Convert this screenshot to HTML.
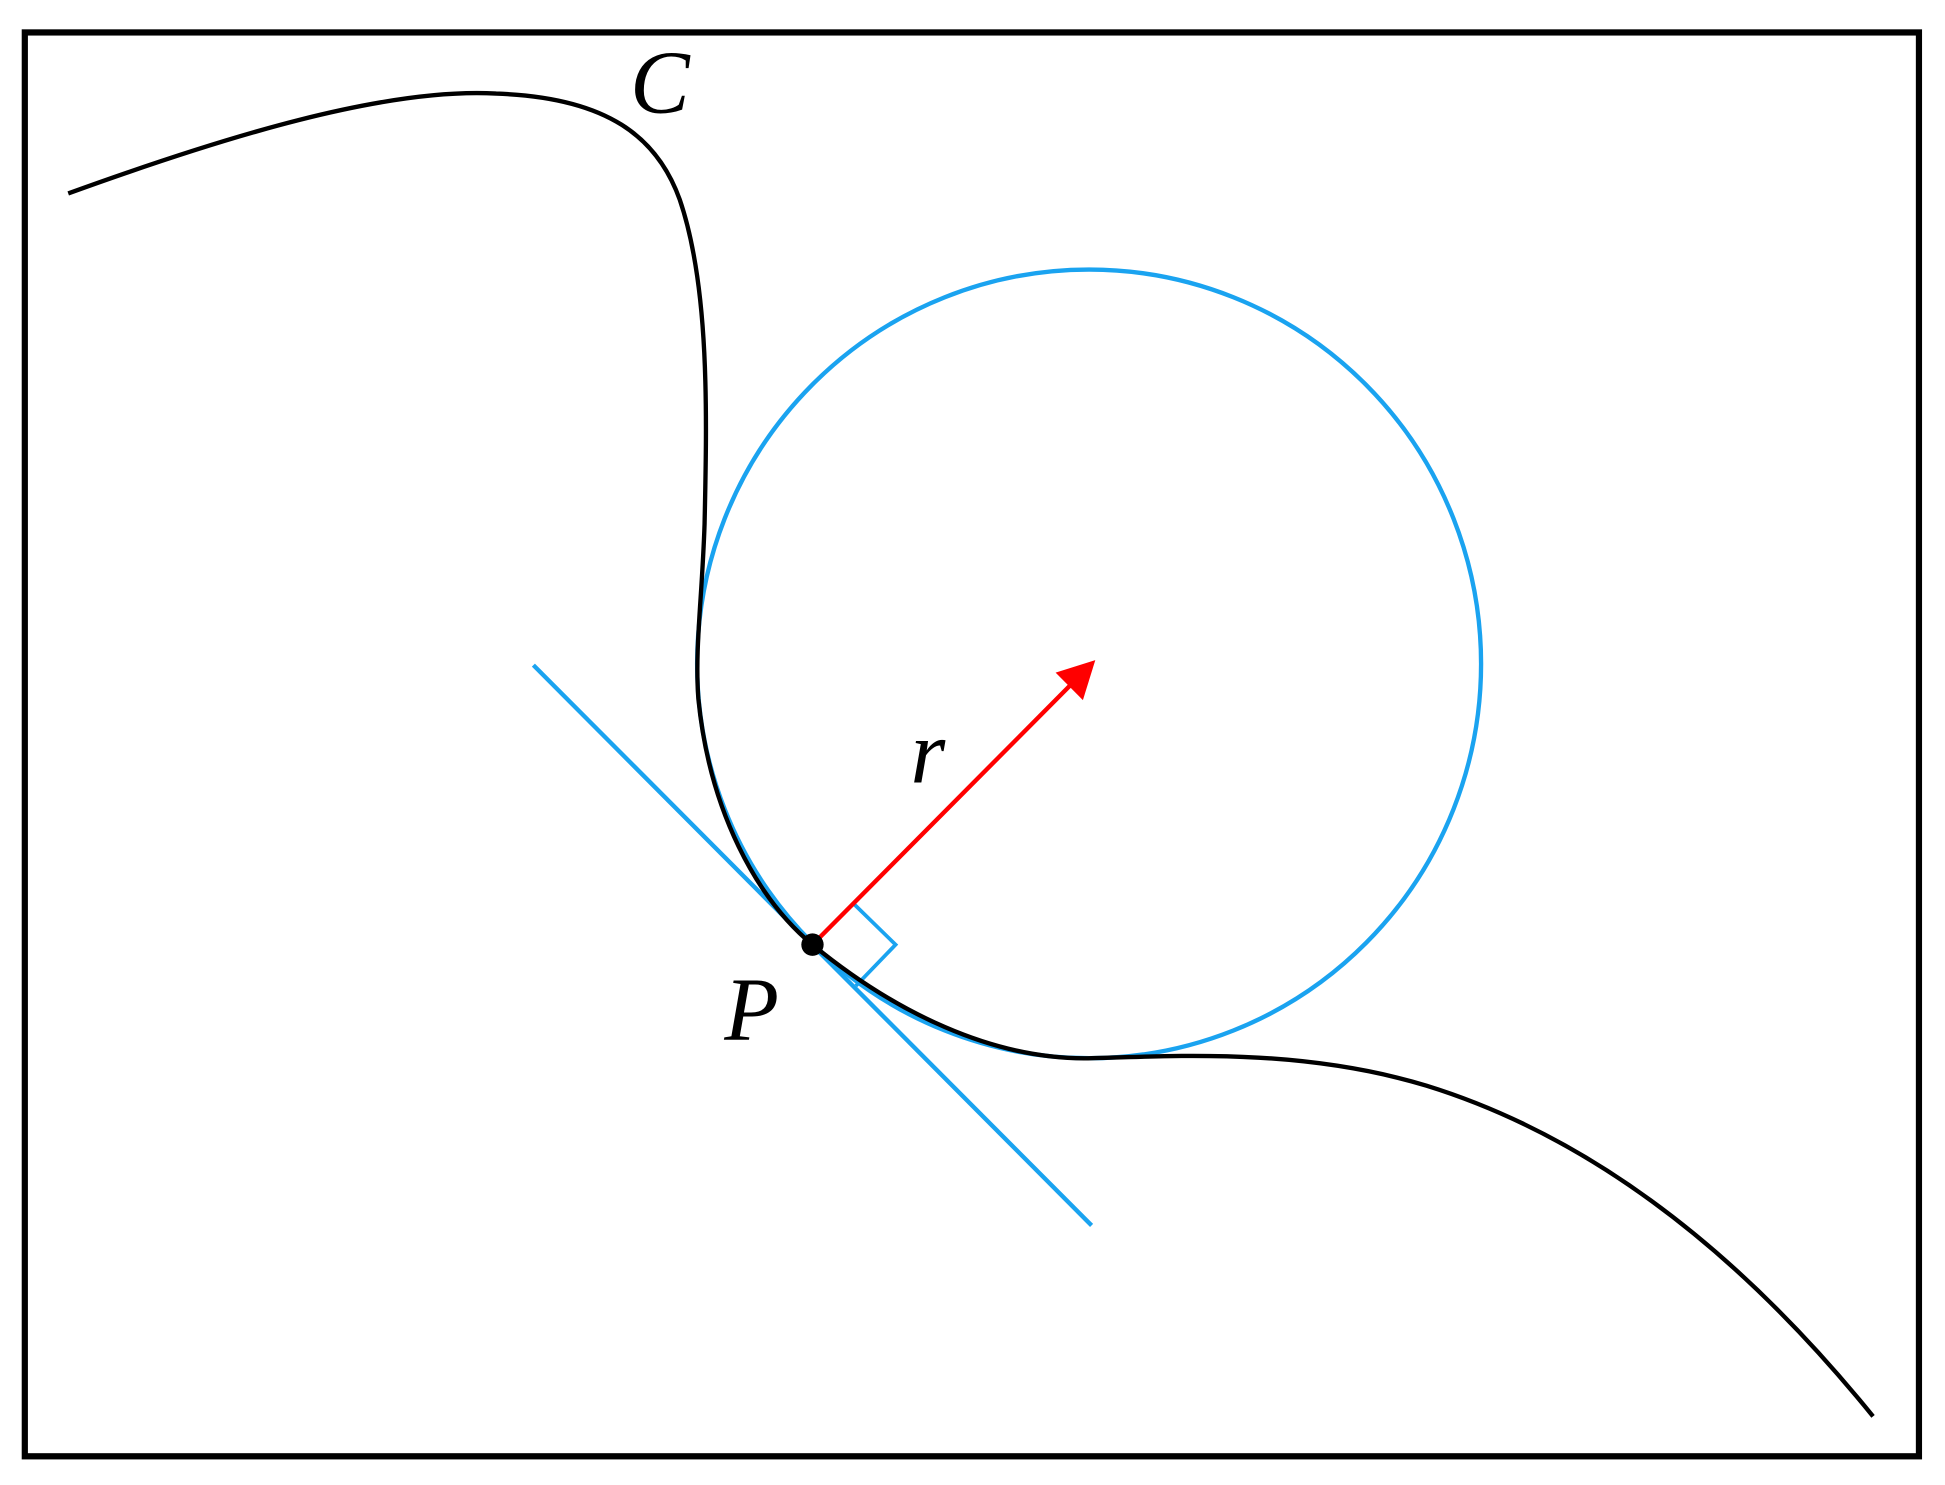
<!DOCTYPE html>
<html><head><style>html,body{margin:0;padding:0;background:#fff}svg{display:block}</style></head>
<body>
<svg width="1945" height="1485" viewBox="0 0 1568 1190" preserveAspectRatio="none" xmlns="http://www.w3.org/2000/svg">
<rect x="0" y="0" width="1568" height="1190" fill="#fff"/>
<rect x="20" y="26" width="1527" height="1141" fill="none" stroke="#000" stroke-width="5"/>
<circle cx="878" cy="532" r="316" fill="none" stroke="#1aa3f0" stroke-width="3.5"/>
<line x1="430" y1="533" x2="880" y2="982" stroke="#1aa3f0" stroke-width="3.5"/>
<polyline points="688,724 722,757 690,790" fill="none" stroke="#1aa3f0" stroke-width="3"/>
<path d="M55,155 C180,110 310,70 400,75 C490,78 530,110 548,160 C572,230 570,330 568,420 C566,480 560,520 563,560 C572,650 610,720 655,757 C720,810 800,850 880,848 C950,846 1050,840 1150,870 C1280,910 1400,1000 1510,1135" fill="none" stroke="#000" stroke-width="3.5"/>
<line x1="655" y1="757" x2="866" y2="546" stroke="#f00" stroke-width="3.5"/>
<polygon points="883,529 873,561 851,539" fill="#f00"/>
<circle cx="655" cy="757" r="9" fill="#000"/>
<text x="508" y="90" font-family="Liberation Serif, serif" font-style="italic" font-size="72">C</text>
<text x="734" y="627" font-family="Liberation Serif, serif" font-style="italic" font-size="72">r</text>
<text x="584" y="833" font-family="Liberation Serif, serif" font-style="italic" font-size="72">P</text>
</svg>
</body></html>
